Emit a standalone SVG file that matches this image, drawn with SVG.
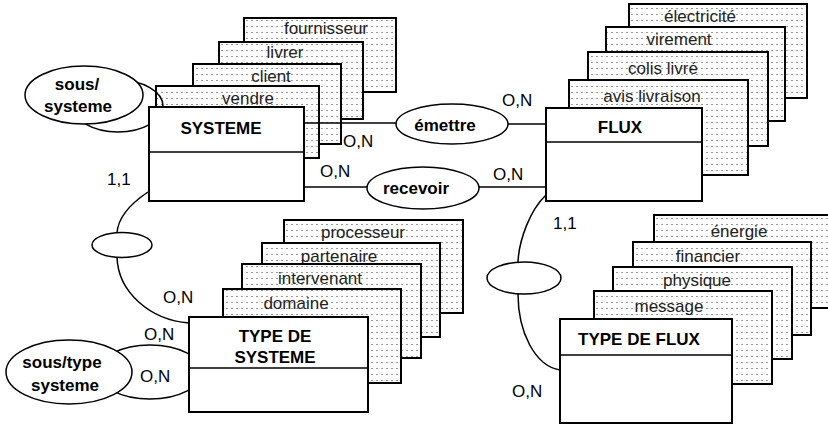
<svg xmlns="http://www.w3.org/2000/svg" width="828" height="426" viewBox="0 0 828 426">
<defs>
<pattern id="dots" patternUnits="userSpaceOnUse" x="0" y="0" width="5" height="6">
<rect x="1" y="2" width="2" height="1" fill="#9a9a9a"/>
</pattern>
</defs>
<style>
.card-bg{fill:#fff;}
.card{fill:url(#dots);stroke:#000;stroke-width:2;}
.box{fill:#fff;stroke:#000;stroke-width:2;}
.div{stroke:#000;stroke-width:1.5;}
.rel{fill:#fff;stroke:#000;stroke-width:1.5;}
.link{fill:none;stroke:#000;stroke-width:1.5;}
text{font-family:"Liberation Sans",Arial,Helvetica,sans-serif;font-size:17px;fill:#000;}
.ct{text-anchor:middle;fill:#222;}
.b{font-weight:bold;text-anchor:middle;}
</style>
<rect width="828" height="426" fill="#fff"/>

<g id="cards-systeme">
<g id="card-fournisseur"><rect class="card-bg" x="244" y="18" width="152" height="74"/><rect class="card" x="244" y="18" width="152" height="74"/><text class="ct" x="326" y="34">fournisseur</text></g>
<g id="card-livrer"><rect class="card-bg" x="219" y="42" width="144" height="77"/><rect class="card" x="219" y="42" width="144" height="77"/><text class="ct" x="285" y="58">livrer</text></g>
<g id="card-client"><rect class="card-bg" x="193" y="64" width="148" height="80"/><rect class="card" x="193" y="64" width="148" height="80"/><text class="ct" x="271" y="82">client</text></g>
<g id="card-vendre"><rect class="card-bg" x="156" y="86" width="163" height="72"/><rect class="card" x="156" y="86" width="163" height="72"/><text class="ct" x="248" y="104">vendre</text></g>
</g>

<g id="cards-flux">
<g id="card-electricite"><rect class="card-bg" x="629" y="4" width="178" height="94"/><rect class="card" x="629" y="4" width="178" height="94"/><text class="ct" x="700" y="22">électricité</text></g>
<g id="card-virement"><rect class="card-bg" x="606" y="27" width="179" height="94"/><rect class="card" x="606" y="27" width="179" height="94"/><text class="ct" x="679" y="45">virement</text></g>
<g id="card-colis"><rect class="card-bg" x="588" y="52" width="180" height="94"/><rect class="card" x="588" y="52" width="180" height="94"/><text class="ct" x="663" y="74">colis livré</text></g>
<g id="card-avis"><rect class="card-bg" x="569" y="80" width="179" height="95"/><rect class="card" x="569" y="80" width="179" height="95"/><text class="ct" x="652" y="102">avis livraison</text></g>
</g>

<g id="cards-type-systeme">
<g id="card-processeur"><rect class="card-bg" x="284" y="220" width="179" height="93"/><rect class="card" x="284" y="220" width="179" height="93"/><text class="ct" x="363" y="238">processeur</text></g>
<g id="card-partenaire"><rect class="card-bg" x="262" y="243" width="178" height="94"/><rect class="card" x="262" y="243" width="178" height="94"/><text class="ct" x="339" y="262">partenaire</text></g>
<g id="card-intervenant"><rect class="card-bg" x="242" y="264" width="179" height="94"/><rect class="card" x="242" y="264" width="179" height="94"/><text class="ct" x="320" y="284">intervenant</text></g>
<g id="card-domaine"><rect class="card-bg" x="223" y="289" width="178" height="94"/><rect class="card" x="223" y="289" width="178" height="94"/><text class="ct" x="296" y="309">domaine</text></g>
</g>

<g id="cards-type-flux">
<g id="card-energie"><rect class="card-bg" x="654" y="215" width="180" height="93"/><rect class="card" x="654" y="215" width="180" height="93"/><text class="ct" x="739" y="237">énergie</text></g>
<g id="card-financier"><rect class="card-bg" x="633" y="242" width="178" height="93"/><rect class="card" x="633" y="242" width="178" height="93"/><text class="ct" x="708" y="262">financier</text></g>
<g id="card-physique"><rect class="card-bg" x="613" y="267" width="179" height="92"/><rect class="card" x="613" y="267" width="179" height="92"/><text class="ct" x="697" y="286">physique</text></g>
<g id="card-message"><rect class="card-bg" x="594" y="291" width="178" height="93"/><rect class="card" x="594" y="291" width="178" height="93"/><text class="ct" x="669" y="312">message</text></g>
</g>

<g id="connectors">
<ellipse class="link" cx="118" cy="106" rx="45" ry="26"/>
<ellipse class="link" cx="150" cy="372" rx="52" ry="27"/>
<line class="link" x1="304" y1="123" x2="396" y2="123"/>
<line class="link" x1="508" y1="124" x2="546" y2="124"/>
<line class="link" x1="304" y1="187" x2="368" y2="187"/>
<line class="link" x1="479" y1="187" x2="546" y2="187"/>
<path class="link" d="M148,192 C130,204 118,218 117,233"/>
<path class="link" d="M117,257 C118,292 150,320 189,323"/>
<path class="link" d="M546,195 C530,210 519,240 518,262"/>
<path class="link" d="M518,294 C518,332 535,366 560,370"/>
<text x="343" y="147">O,N</text>
<text x="320" y="177">O,N</text>
<text x="502" y="106">O,N</text>
<text x="493" y="180">O,N</text>
<text x="107" y="185">1,1</text>
<text x="163" y="303">O,N</text>
<text x="144" y="340">O,N</text>
<text x="140" y="382">O,N</text>
<text x="553" y="229">1,1</text>
<text x="512" y="397">O,N</text>
</g>

<g id="entity-systeme">
<rect class="box" x="149" y="107" width="155" height="94"/>
<line class="div" x1="149" y1="152" x2="304" y2="152"/>
<text class="b" x="221" y="134">SYSTEME</text>
</g>
<g id="entity-flux">
<rect class="box" x="546" y="108" width="156" height="93"/>
<line class="div" x1="546" y1="142" x2="702" y2="142"/>
<text class="b" x="620" y="133">FLUX</text>
</g>
<g id="entity-type-systeme">
<rect class="box" x="189" y="317" width="179" height="95"/>
<line class="div" x1="189" y1="368" x2="368" y2="368"/>
<text class="b" x="275" y="342">TYPE DE</text>
<text class="b" x="275" y="363">SYSTEME</text>
</g>
<g id="entity-type-flux">
<rect class="box" x="560" y="319" width="172" height="104"/>
<line class="div" x1="560" y1="355" x2="732" y2="355"/>
<text class="b" x="639" y="345">TYPE DE FLUX</text>
</g>

<g id="rel-sous-systeme">
<ellipse class="rel" cx="84" cy="95" rx="59" ry="29"/>
<text class="b" x="77" y="90">sous/</text>
<text class="b" x="78" y="112">systeme</text>
</g>
<g id="rel-emettre">
<ellipse class="rel" cx="452" cy="124" rx="56" ry="20"/>
<text class="b" x="445" y="131">émettre</text>
</g>
<g id="rel-recevoir">
<ellipse class="rel" cx="423" cy="188" rx="56" ry="21"/>
<text class="b" x="416" y="194">recevoir</text>
</g>
<g id="rel-type-systeme">
<ellipse class="rel" cx="122" cy="245" rx="30" ry="12.5"/>
</g>
<g id="rel-type-flux">
<ellipse class="rel" cx="524" cy="278" rx="37" ry="16"/>
</g>
<g id="rel-sous-type-systeme">
<ellipse class="rel" cx="69" cy="372" rx="63" ry="32"/>
<text class="b" x="62" y="368">sous/type</text>
<text class="b" x="65" y="391">systeme</text>
</g>
</svg>
